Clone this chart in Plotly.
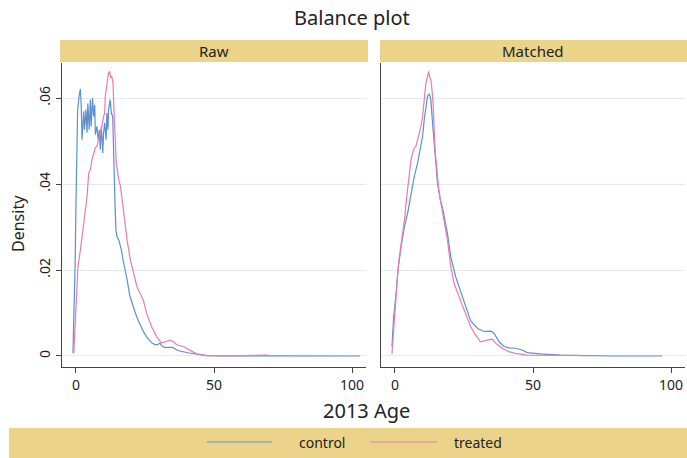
import plotly.graph_objects as go

# ---------------- data ----------------
raw_control_age = [-1.1, -0.8, -0.6, -0.3, 0.0, 0.36, 0.6, 1.2, 1.6, 1.9, 2.2, 2.8, 3.1, 3.6, 4.0, 4.3,
                   4.8, 5.2, 5.5, 6.0, 6.4, 6.8, 7.0, 7.6, 8.0, 8.5, 8.8, 9.2, 9.7, 10.0, 10.4, 10.9,
                   11.2, 11.6, 11.8, 12.4, 12.8, 13.3, 13.7, 13.9, 14.2, 14.5, 15.0, 15.5, 16.0, 16.5,
                   17.0, 17.5, 18.5, 19.5, 20.5, 21.5, 22.5, 23.5, 24.5, 25.5, 26.5, 27.5, 28.5, 29.5,
                   30.4, 31.0, 32.0, 35.0, 36.5, 38.0, 41.0, 44.0, 47.5, 55.0, 70.0, 102.9]
raw_control_den = [0.0007, 0.008, 0.018, 0.022, 0.036, 0.0526, 0.0573, 0.0608, 0.0621, 0.0581, 0.0503,
                   0.0569, 0.0526, 0.0573, 0.0519, 0.0588, 0.0526, 0.0596, 0.0534, 0.0600, 0.0557,
                   0.0584, 0.0515, 0.0534, 0.0503, 0.0526, 0.0480, 0.0534, 0.0472, 0.0519, 0.0542,
                   0.0503, 0.0565, 0.0526, 0.0573, 0.0596, 0.0565, 0.0557, 0.0449, 0.0372, 0.0340,
                   0.0290, 0.0275, 0.0270, 0.0260, 0.0245, 0.0225, 0.0210, 0.0178, 0.0140, 0.0118,
                   0.0100, 0.0083, 0.0068, 0.0056, 0.0045, 0.0037, 0.0030, 0.0027, 0.0026, 0.0030,
                   0.0024, 0.0020, 0.0020, 0.0014, 0.0011, 0.0007, 0.0004, 0.0001, 0.00005, 0.00002, 0.0]

raw_treated_age = [-0.8, -0.5, 0.0, 0.36, 0.7, 1.6, 2.2, 2.8, 3.1, 3.6, 4.0, 4.6, 5.2, 5.8, 6.4, 7.0,
                   7.6, 8.2, 8.8, 9.4, 10.0, 10.4, 10.6, 11.2, 11.8, 12.2, 12.6, 13.0, 13.4, 13.7,
                   14.0, 14.2, 14.6, 15.5, 16.1, 16.7, 17.3, 18.5, 19.7, 20.9, 22.1, 23.2, 24.4, 25.6,
                   27.4, 29.2, 31.0, 32.2, 34.1, 35.3, 36.5, 38.9, 41.3, 43.7, 47.4, 55.0, 69.6]
raw_treated_den = [0.0006, 0.0053, 0.0115, 0.0153, 0.0208, 0.0247, 0.0277, 0.0300, 0.0324, 0.0347,
                   0.0370, 0.0426, 0.0433, 0.0457, 0.0472, 0.0484, 0.0488, 0.0503, 0.0519, 0.0534,
                   0.0557, 0.0565, 0.0604, 0.0627, 0.0658, 0.0662, 0.0647, 0.0650, 0.0635, 0.0580,
                   0.0542, 0.0488, 0.0449, 0.0410, 0.0395, 0.0364, 0.0330, 0.0270, 0.0223, 0.0192,
                   0.0161, 0.0146, 0.0130, 0.0099, 0.0068, 0.0045, 0.0030, 0.0033, 0.0037, 0.0033,
                   0.0026, 0.0022, 0.0014, 0.0005, 0.0001, 0.00005, 0.0002]

matched_control_age = [-1.1, -0.5, 0.4, 1.2, 2.4, 3.4, 4.6, 5.8, 7.0, 8.2, 9.1, 10.0, 10.6, 11.2, 11.8,
                       12.4, 13.0, 13.6, 14.2, 14.8, 15.4, 16.4, 17.2, 19.0, 20.2, 22.0, 23.8, 25.6,
                       27.4, 29.9, 32.3, 34.7, 35.9, 37.7, 39.5, 41.3, 43.7, 46.1, 47.9, 52.7, 60.0,
                       78.0, 96.8]
matched_control_den = [0.0022, 0.0090, 0.0146, 0.0208, 0.0262, 0.0300, 0.0333, 0.0379, 0.0418, 0.0449,
                       0.0480, 0.0511, 0.0550, 0.0580, 0.0604, 0.0610, 0.0596, 0.0542, 0.0488, 0.0441,
                       0.0402, 0.0364, 0.0345, 0.0285, 0.0231, 0.0184, 0.0150, 0.0115, 0.0082, 0.0064,
                       0.0057, 0.0058, 0.0053, 0.0033, 0.0022, 0.0019, 0.0018, 0.0014, 0.0008, 0.0005,
                       0.0002, 0.0, 0.0]

matched_treated_age = [-1.1, -0.6, -0.25, 0.36, 1.0, 1.6, 2.4, 3.1, 3.6, 4.0, 4.6, 5.2, 5.8, 6.4, 7.0,
                       7.6, 8.2, 8.8, 9.4, 10.0, 10.6, 11.2, 11.8, 12.2, 12.6, 13.0, 13.4, 13.8, 14.2,
                       14.6, 15.2, 15.7, 16.4, 17.2, 17.8, 19.0, 20.2, 21.4, 23.2, 25.0, 25.6, 27.4,
                       29.2, 31.0, 33.4, 35.2, 36.4, 38.8, 41.2, 43.6, 47.9, 69.6]
matched_treated_den = [0.0005, 0.0053, 0.0084, 0.0130, 0.0192, 0.0231, 0.0270, 0.0293, 0.0324, 0.0356,
                       0.0395, 0.0433, 0.0457, 0.0472, 0.0484, 0.0488, 0.0503, 0.0519, 0.0534, 0.0557,
                       0.0604, 0.0635, 0.0650, 0.0662, 0.0647, 0.0643, 0.0619, 0.0588, 0.0526, 0.0472,
                       0.0433, 0.0395, 0.0364, 0.0333, 0.0316, 0.0270, 0.0208, 0.0169, 0.0138, 0.0107,
                       0.0095, 0.0068, 0.0049, 0.0033, 0.0037, 0.0039, 0.0030, 0.0018, 0.0010, 0.0006,
                       0.0002, 0.0001]

y_tickvals = [0, 0.02, 0.04, 0.06]
y_ticktext = ["0", ".02", ".04", ".06"]
x_tickvals = [0, 50, 100]
panel_titles = ["Raw", "Matched"]
series_names = ["control", "treated"]

# ---------------- styling ----------------
W, H = 687, 458
BLUE = "#5B90D0"
PINK = "#E57DB3"
STRIP = "#EBD489"
GRID = "#E2EAF0"
FONT = "Noto Sans"

def px_x(p):
    return p / W

def px_y(p):
    return 1 - p / H

fig = go.Figure()
fig.add_trace(go.Scatter(x=raw_control_age, y=raw_control_den, mode="lines", name="control",
                         line=dict(color=BLUE, width=1.2), xaxis="x", yaxis="y", showlegend=False))
fig.add_trace(go.Scatter(x=raw_treated_age, y=raw_treated_den, mode="lines", name="treated",
                         line=dict(color=PINK, width=1.2), xaxis="x", yaxis="y", showlegend=False))
fig.add_trace(go.Scatter(x=matched_control_age, y=matched_control_den, mode="lines", name="control",
                         line=dict(color=BLUE, width=1.2), xaxis="x2", yaxis="y2", showlegend=False))
fig.add_trace(go.Scatter(x=matched_treated_age, y=matched_treated_den, mode="lines", name="treated",
                         line=dict(color=PINK, width=1.2), xaxis="x2", yaxis="y2", showlegend=False))

yr = [-0.00256, 0.06814]
xr = [-5.07, 105.07]
ydom = [px_y(367), px_y(63)]

common_x = dict(range=xr, tickvals=x_tickvals, ticks="outside", ticklen=5, tickcolor="#444",
                showline=True, linecolor="#444", linewidth=1, showgrid=False, zeroline=False,
                tickfont=dict(size=14, color="#222"))
common_y = dict(range=yr, tickvals=y_tickvals, ticktext=y_ticktext, showgrid=True, gridcolor=GRID,
                gridwidth=1, zeroline=False, showline=True, linecolor="#444", linewidth=1,
                domain=ydom, tickfont=dict(size=14, color="#222"))

fig.update_layout(
    width=W, height=H, margin=dict(l=0, r=0, t=0, b=0),
    paper_bgcolor="white", plot_bgcolor="white",
    font=dict(family=FONT, color="#222"),
    xaxis=dict(domain=[px_x(62), px_x(366)], anchor="y", **common_x),
    xaxis2=dict(domain=[px_x(381), px_x(685)], anchor="y2", **common_x),
    yaxis=dict(anchor="x", ticks="outside", ticklen=5, tickcolor="#444", tickangle=-90,
               showticklabels=True, **common_y),
    yaxis2=dict(anchor="x2", ticks="", showticklabels=False, **common_y),
    showlegend=False,
)

shapes = []
# strip headers
shapes.append(dict(type="rect", xref="paper", yref="paper", x0=px_x(60), x1=px_x(368),
                   y0=px_y(62), y1=px_y(40), fillcolor=STRIP, line=dict(width=0), layer="below"))
shapes.append(dict(type="rect", xref="paper", yref="paper", x0=px_x(380), x1=px_x(687),
                   y0=px_y(62), y1=px_y(40), fillcolor=STRIP, line=dict(width=0), layer="below"))
# legend band
shapes.append(dict(type="rect", xref="paper", yref="paper", x0=px_x(9), x1=px_x(687),
                   y0=px_y(458), y1=px_y(428), fillcolor=STRIP, line=dict(width=0), layer="below"))
# legend samples
shapes.append(dict(type="line", xref="paper", yref="paper", x0=px_x(207), x1=px_x(272),
                   y0=px_y(442), y1=px_y(442), line=dict(color=BLUE, width=1.2)))
shapes.append(dict(type="line", xref="paper", yref="paper", x0=px_x(370), x1=px_x(437),
                   y0=px_y(442), y1=px_y(442), line=dict(color=PINK, width=1.2)))
fig.update_layout(shapes=shapes)

ann = []
ann.append(dict(text="Balance plot", x=px_x(352), y=px_y(18), xref="paper", yref="paper",
                showarrow=False, font=dict(size=20, color="#222"), xanchor="center", yanchor="middle"))
ann.append(dict(text=panel_titles[0], x=px_x(214), y=px_y(51), xref="paper", yref="paper",
                showarrow=False, font=dict(size=15, color="#222"), xanchor="center", yanchor="middle"))
ann.append(dict(text=panel_titles[1], x=px_x(533), y=px_y(51), xref="paper", yref="paper",
                showarrow=False, font=dict(size=15, color="#222"), xanchor="center", yanchor="middle"))
ann.append(dict(text="Density", x=px_x(18), y=px_y(224), xref="paper", yref="paper", textangle=-90,
                showarrow=False, font=dict(size=16, color="#222"), xanchor="center", yanchor="middle"))
ann.append(dict(text="2013 Age", x=px_x(366), y=px_y(410), xref="paper", yref="paper",
                showarrow=False, font=dict(size=20, color="#222"), xanchor="center", yanchor="middle"))
ann.append(dict(text=series_names[0], x=px_x(322), y=px_y(442), xref="paper", yref="paper",
                showarrow=False, font=dict(size=14, color="#222"), xanchor="center", yanchor="middle"))
ann.append(dict(text=series_names[1], x=px_x(478), y=px_y(442), xref="paper", yref="paper",
                showarrow=False, font=dict(size=14, color="#222"), xanchor="center", yanchor="middle"))
fig.update_layout(annotations=ann)

fig.write_html("out.html", config={"displayModeBar": False},
               post_script="document.body.style.margin='0px';document.body.style.overflow='hidden';")
